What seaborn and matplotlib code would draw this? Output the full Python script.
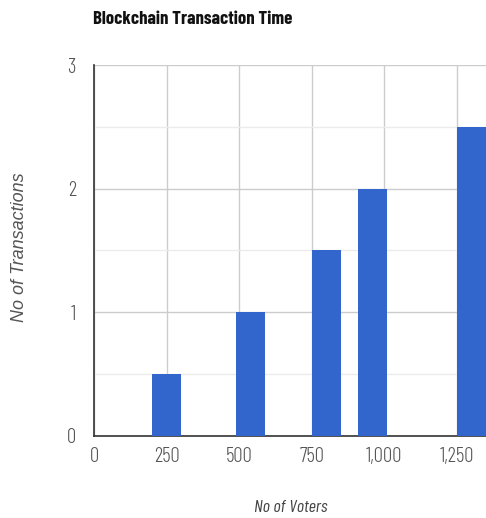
import matplotlib
matplotlib.use("Agg")
import matplotlib.pyplot as plt
import seaborn as sns
from matplotlib.ticker import MultipleLocator, FuncFormatter

# Number of voters per run and the resulting transaction counts
voters = [250, 540, 800, 960, 1300]
transactions = [0.5, 1.0, 1.5, 2.0, 2.5]
x_ticks = [0, 250, 500, 750, 1000, 1250]
y_ticks = [0, 1, 2, 3]

title = "Blockchain Transaction Time"
x_title = "No of Voters"
y_title = "No of Transactions"

sns.set_theme(style="white")
NARROW = ["Barlow Condensed", "DejaVu Sans"]
plt.rcParams["font.family"] = NARROW

W, H = 486, 518
fig = plt.figure(figsize=(W / 100, H / 100), dpi=100)
ax = fig.add_axes([94 / W, 1 - 435.5 / H, 1 - 94 / W, (435.5 - 65) / H])

sns.barplot(x=voters, y=transactions, native_scale=True, width=0.62,
            color="#3366cc", saturation=1, linewidth=0, ax=ax, zorder=3)

ax.set_xlim(0, 1350)
ax.set_ylim(0, 3)
ax.set_xticks(x_ticks)
ax.set_yticks(y_ticks)
ax.yaxis.set_minor_locator(MultipleLocator(0.5))
ax.xaxis.set_major_formatter(FuncFormatter(lambda v, p: f"{int(v):,}"))

ax.grid(True, which="major", color="#cccccc", linewidth=1, zorder=0)
ax.grid(True, which="minor", axis="y", color="#ebebeb", linewidth=1, zorder=0)
ax.set_axisbelow(True)

for side in ("top", "right"):
    ax.spines[side].set_visible(False)
for side in ("left", "bottom"):
    ax.spines[side].set_color("#333333")
    ax.spines[side].set_linewidth(1.2)

ax.tick_params(axis="both", which="both", length=0, labelsize=15,
               labelcolor="#555555")
ax.tick_params(axis="x", pad=8)
ax.tick_params(axis="y", pad=13)
for lbl in ax.get_xticklabels() + ax.get_yticklabels():
    lbl.set_fontweight(300)
ax.set_xlabel("")
ax.set_ylabel("")

fig.text(93 / W, 1 - 19.5 / H, title, ha="left", va="center",
         fontsize=13.5, fontweight="bold", color="#111111")
fig.text(19.5 / W, 1 - 247.5 / H, y_title, rotation=90, ha="center", va="center",
         fontsize=13, fontstyle="italic", color="#555555",
         family=["Liberation Sans", "DejaVu Sans"])
fig.text(291 / W, 1 - 507 / H, x_title, ha="center", va="center",
         fontsize=13, fontstyle="italic", color="#444444")

fig.savefig("out.png", dpi=100, facecolor="white")
